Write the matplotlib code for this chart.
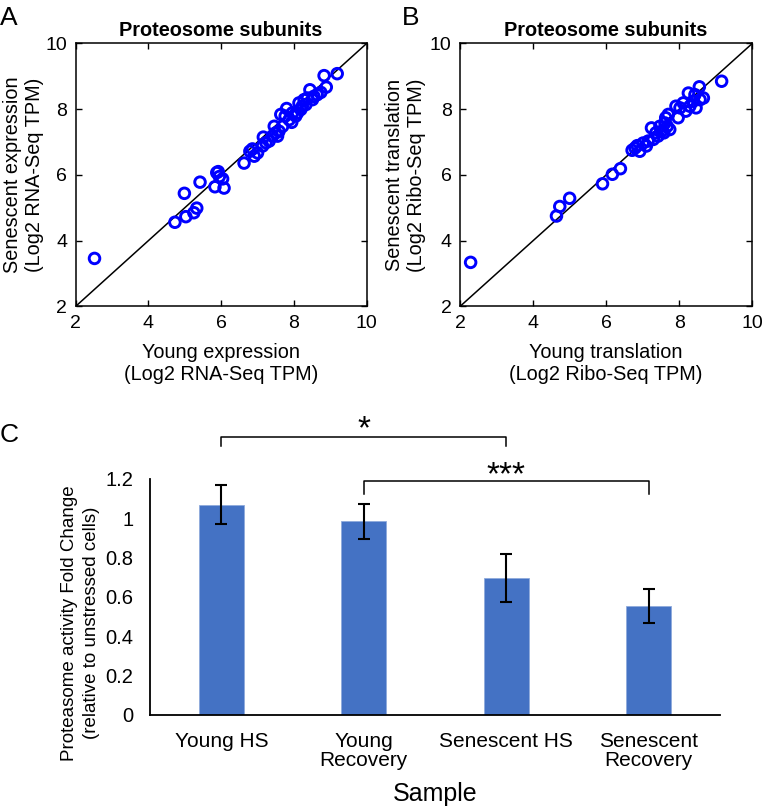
import matplotlib
matplotlib.use("Agg")
import matplotlib.pyplot as plt
import numpy as np

plt.rcParams['font.family'] = ['Liberation Sans', 'DejaVu Sans']

# Panel A : proteasome subunits, RNA-Seq (young vs senescent)
rna_young = [2.52, 4.73, 5.03, 5.33, 5.25, 4.99, 5.42, 5.88, 5.95, 6.04, 5.83, 6.08, 5.92,
             6.63, 6.79, 6.86, 6.91, 7.00, 7.14, 7.16, 7.32, 7.41, 7.46, 7.55, 7.59, 7.69,
             7.64, 7.80, 7.76, 7.87, 7.94, 7.96, 8.10, 8.19, 8.14, 8.28, 8.37, 8.44, 8.55,
             8.64, 8.74, 8.83, 8.89, 9.19, 8.23, 8.05, 8.33, 8.51, 7.23, 7.50]
rna_senescent = [3.46, 4.56, 4.73, 4.99, 4.85, 5.44, 5.78, 6.07, 5.95, 5.88, 5.64, 5.60, 6.10,
                 6.36, 6.72, 6.79, 6.57, 6.67, 6.88, 7.15, 7.03, 7.18, 7.48, 7.18, 7.33, 7.48,
                 7.84, 8.02, 7.79, 7.68, 7.60, 7.89, 7.89, 7.99, 8.19, 8.29, 8.34, 8.59, 8.39,
                 8.44, 8.51, 9.02, 8.67, 9.08, 8.09, 7.79, 8.14, 8.29, 6.98, 7.28]

# Panel B : proteasome subunits, Ribo-Seq (young vs senescent)
ribo_young = [2.29, 4.64, 4.73, 5.00, 5.90, 6.17, 6.39, 6.71, 6.79, 6.85, 6.92, 7.01, 7.10,
              7.15, 7.24, 7.29, 7.36, 7.42, 7.47, 7.52, 7.58, 7.63, 7.67, 7.61, 7.70, 7.74,
              7.91, 7.97, 8.02, 8.18, 8.25, 8.29, 8.38, 8.46, 8.55, 8.57, 8.66, 9.16, 8.11, 8.43]
ribo_senescent = [3.34, 4.75, 5.04, 5.29, 5.73, 6.02, 6.19, 6.75, 6.82, 6.89, 6.72, 6.97, 6.88,
                  7.03, 7.43, 7.08, 7.28, 7.18, 7.48, 7.33, 7.28, 7.74, 7.48, 7.58, 7.84, 7.38,
                  8.09, 7.74, 8.04, 7.94, 8.49, 8.09, 8.24, 8.04, 8.68, 8.29, 8.34, 8.85, 8.19, 8.44]

# Panel C : proteasome activity
samples = ['Young HS', 'Young\nRecovery', 'Senescent HS', 'Senescent\nRecovery']
activity = [1.07, 0.986, 0.695, 0.553]
activity_err = [0.098, 0.089, 0.122, 0.085]
c_yticks = [0, 0.2, 0.4, 0.6, 0.8, 1.0, 1.2]
c_yticklabels = ['0', '0.2', '0.4', '0.6', '0.8', '1', '1.2']

fig = plt.figure(figsize=(7.62, 8.10), dpi=100)


def scatter_panel(ax, x, y, xlabel, ylabel, ylabel_x):
    ax.plot([2, 10], [2, 10], color='black', lw=1.1, zorder=1)
    ax.scatter(x, y, s=58, facecolors='none', edgecolors='#0000ff', linewidths=2.1, zorder=2)
    ax.set_xlim(2, 10)
    ax.set_ylim(2, 10)
    ax.set_xticks([2, 4, 6, 8, 10])
    ax.set_yticks([2, 4, 6, 8, 10])
    ax.tick_params(direction='in', top=True, right=True, length=4, width=1,
                   labelsize=14, pad=6)
    for s in ax.spines.values():
        s.set_linewidth(1.1)
    ax.set_title('Proteosome subunits', fontsize=14.3, fontweight='bold', pad=5)
    ax.set_xlabel(xlabel, fontsize=14.3, va='top')
    ax.xaxis.set_label_coords(0.5, -0.14)
    ax.set_ylabel(ylabel, fontsize=14.3)
    ax.yaxis.set_label_coords(ylabel_x, 0.5)


axA = fig.add_axes([0.0992, 0.6217, 0.382, 0.3247])
scatter_panel(axA, rna_young, rna_senescent,
              'Young expression\n(Log2 RNA-Seq TPM)',
              'Senescent expression\n(Log2 RNA-Seq TPM)', -0.108)

axB = fig.add_axes([0.6037, 0.6217, 0.3836, 0.3247])
scatter_panel(axB, ribo_young, ribo_senescent,
              'Young translation\n(Log2 Ribo-Seq TPM)',
              'Senescent translation\n(Log2 Ribo-Seq TPM)', -0.115)

# bar chart
axC = fig.add_axes([0.197, 0.1173, 0.748, 0.2914])
pos = np.arange(len(samples))
axC.bar(pos, activity, width=0.315, color='#4472c4', edgecolor='#8faadc', linewidth=0.6)
axC.errorbar(pos, activity, yerr=activity_err, fmt='none', ecolor='black',
             elinewidth=1.5, capsize=4, capthick=1.5)
axC.set_xlim(-0.5, 3.5)
axC.set_ylim(0, 1.2)
axC.set_yticks(c_yticks)
axC.set_yticklabels(c_yticklabels)
axC.set_xticks(pos)
axC.set_xticklabels(samples, linespacing=1.05)
axC.tick_params(axis='y', length=0, labelsize=14.5, pad=12)
axC.tick_params(axis='x', length=0, labelsize=15, pad=12)
axC.spines['top'].set_visible(False)
axC.spines['right'].set_visible(False)
axC.spines['left'].set_linewidth(1.3)
axC.spines['bottom'].set_linewidth(1.3)
axC.set_xlabel('Sample', fontsize=18, va='top')
axC.xaxis.set_label_coords(0.5, -0.285)
axC.set_ylabel('Proteasome activity Fold Change\n(relative to unstressed cells)',
               fontsize=13.5, linespacing=1.35)
axC.yaxis.set_label_coords(-0.088, 0.39)

# significance brackets
def bracket(ax, x0, x1, ytop, ybot, label, ylabel):
    ax.plot([x0, x0, x1, x1], [ybot, ytop, ytop, ybot], color='black', lw=1.1, clip_on=False)
    ax.text((x0 + x1) / 2, ylabel, label, ha='center', va='center', fontsize=24)

bracket(axC, pos[0], pos[2], 1.415, 1.365, '*', 1.45)
bracket(axC, pos[1], pos[3], 1.189, 1.126, '***', 1.215)

# panel letters
fig.text(0.0, 0.992, 'A', fontsize=19, va='top', ha='left')
fig.text(0.528, 0.992, 'B', fontsize=19, va='top', ha='left')
fig.text(0.0, 0.478, 'C', fontsize=19, va='top', ha='left')

fig.savefig('out.png', dpi=100)
